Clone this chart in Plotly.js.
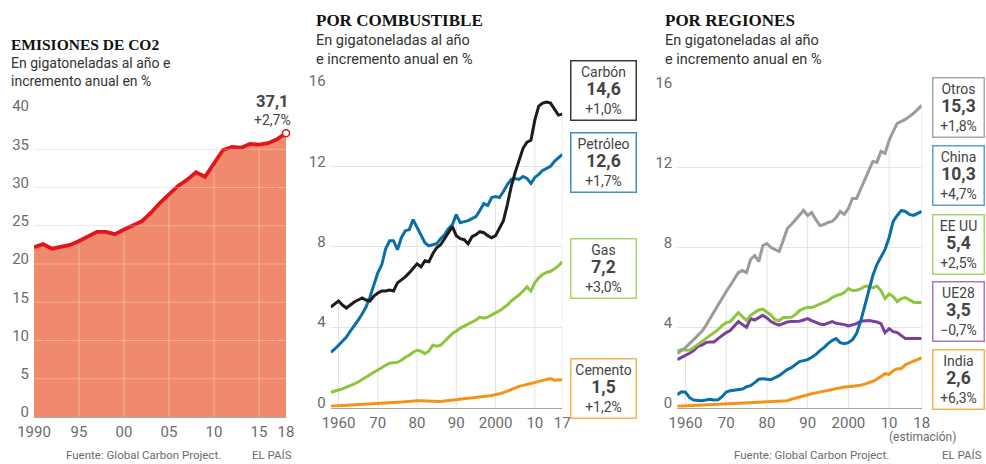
<!DOCTYPE html>
<html><head><meta charset="utf-8">
<script src="https://cdn.plot.ly/plotly-3.0.1.min.js"></script>
<style>html,body{margin:0;padding:0;background:#fff}#chart{width:986px;height:464px}</style>
</head><body><div id="chart"></div>
<script>
// ---------- Panel 1: total emissions ----------
const totalYears = [1990,1991,1992,1993,1994,1995,1996,1997,1998,1999,2000,2001,2002,2003,2004,2005,2006,2007,2008,2009,2010,2011,2012,2013,2014,2015,2016,2017,2018];
const totalCO2 = [22.2,22.6,22.0,22.2,22.5,23.0,23.6,24.2,24.2,23.9,24.5,25.0,25.6,26.7,28.0,29.1,30.2,31.0,32.0,31.4,33.1,34.9,35.3,35.2,35.7,35.6,35.8,36.3,37.1];
const totalLabel = '37,1';
const totalChange = '+2,7%';
const leftXTicks = [1990,1995,2000,2005,2010,2015,2018];
const leftXText = ['1990','95','00','05','10','15','18'];
const leftYTicks = [0,5,10,15,20,25,30,35,40];

// ---------- Panel 2: by fuel ----------
const fuelYears = [1958,1959,1960,1961,1962,1963,1964,1965,1966,1967,1968,1969,1970,1971,1972,1973,1974,1975,1976,1977,1978,1979,1980,1981,1982,1983,1984,1985,1986,1987,1988,1989,1990,1991,1992,1993,1994,1995,1996,1997,1998,1999,2000,2001,2002,2003,2004,2005,2006,2007,2008,2009,2010,2011,2012,2013,2014,2015,2016,2017];
const coal = [5.0,5.15,5.3,5.1,4.95,5.1,5.25,5.35,5.45,5.35, 5.3,5.55,5.7,5.8,5.8,5.85,5.8,6.2,6.35,6.5, 6.7,6.95,7.15,7.0,7.3,7.25,7.65,7.95,8.1,8.4, 8.7,9.0,8.55,8.4,8.35,8.15,8.5,8.6,8.75,8.7, 8.55,8.45,8.55,8.95,9.3,10.1,11.0,11.7,12.3,12.9, 13.2,13.3,14.3,15.0,15.15,15.2,15.15,14.85,14.55,14.6];
const oil = [2.75,2.9,3.1,3.3,3.5,3.8,4.05,4.35,4.65,5.0, 5.5,6.1,6.7,7.1,7.9,8.3,8.3,7.85,8.45,8.8, 8.85,9.35,8.95,8.55,8.2,8.05,8.1,8.15,8.4,8.6, 8.9,9.1,9.6,9.2,9.25,9.3,9.4,9.5,9.8,10.15, 10.05,10.45,10.5,10.45,10.75,11.1,11.35,11.4,11.35,11.5, 11.4,11.15,11.45,11.6,11.8,11.9,12.0,12.25,12.45,12.6];
const gas = [0.76,0.80,0.87,0.93,1.0,1.08,1.17,1.27,1.38,1.5, 1.62,1.75,1.87,2.0,2.1,2.2,2.23,2.25,2.35,2.5, 2.6,2.75,2.85,2.8,2.68,2.8,3.1,3.05,3.1,3.3, 3.5,3.68,3.8,3.95,4.05,4.15,4.25,4.35,4.5,4.45, 4.5,4.6,4.72,4.82,4.95,5.1,5.3,5.45,5.6,5.8, 6.0,5.8,6.2,6.45,6.62,6.72,6.78,6.9,7.05,7.25];
const cement = [0.06,0.07,0.08,0.09,0.1,0.11,0.12,0.13,0.14,0.15, 0.16,0.17,0.18,0.2,0.21,0.23,0.24,0.25,0.27,0.29, 0.31,0.33,0.34,0.33,0.32,0.31,0.3,0.29,0.3,0.32, 0.34,0.36,0.38,0.4,0.42,0.44,0.47,0.5,0.52,0.55, 0.57,0.6,0.63,0.68,0.74,0.82,0.9,0.98,1.05,1.1, 1.14,1.18,1.24,1.3,1.35,1.4,1.44,1.36,1.37,1.38];
const fuelNames = ['Carbón','Petróleo','Gas','Cemento'];
const fuelTotals = ['14,6','12,6','7,2','1,5'];
const fuelChanges = ['+1,0%','+1,7%','+3,0%','+1,2%'];
const midXTicks = [1960,1970,1980,1990,2000,2010,2017];
const midXText = ['1960','70','80','90','2000','10','17'];

// ---------- Panel 3: by region ----------
const regionYears = [1958,1959,1960,1961,1962,1963,1964,1965,1966,1967,1968,1969,1970,1971,1972,1973,1974,1975,1976,1977,1978,1979,1980,1981,1982,1983,1984,1985,1986,1987,1988,1989,1990,1991,1992,1993,1994,1995,1996,1997,1998,1999,2000,2001,2002,2003,2004,2005,2006,2007,2008,2009,2010,2011,2012,2013,2014,2015,2016,2017,2018];
const otros = [2.7,2.85,3.0,3.2,3.4,3.6,3.8,4.1,4.45,4.8, 5.1,5.45,5.8,6.1,6.4,6.75,6.85,6.75,7.4,7.6, 7.3,8.1,8.2,8.0,7.9,7.8,8.35,8.95,9.15,9.4, 9.6,9.85,9.6,9.75,9.4,9.1,9.15,9.25,9.3,9.5, 9.8,9.65,9.95,10.45,10.45,10.9,11.4,11.85,12.3,12.25, 12.8,12.7,13.35,13.8,14.2,14.3,14.4,14.55,14.7,14.9, 15.1];
const china = [0.65,0.8,0.78,0.5,0.38,0.35,0.35,0.38,0.42,0.38, 0.4,0.55,0.78,0.85,0.88,0.9,0.93,1.05,1.1,1.25, 1.42,1.45,1.42,1.4,1.5,1.6,1.75,1.9,2.0,2.15, 2.3,2.35,2.4,2.52,2.65,2.85,3.0,3.2,3.35,3.45, 3.25,3.2,3.25,3.4,3.7,4.3,5.1,5.9,6.6,7.15, 7.5,7.9,8.5,9.3,9.6,9.85,9.8,9.65,9.6,9.7, 9.8];
const eeuu = [2.82,2.9,2.88,2.87,3.0,3.15,3.3,3.45,3.6,3.72, 3.9,4.1,4.25,4.3,4.55,4.75,4.55,4.35,4.62,4.75, 4.88,4.92,4.78,4.62,4.4,4.35,4.5,4.5,4.52,4.65, 4.85,4.95,5.02,5.0,5.08,5.2,5.28,5.35,5.5,5.6, 5.65,5.75,5.95,5.85,5.87,5.93,6.05,6.08,5.98,6.07, 5.85,5.45,5.68,5.55,5.3,5.45,5.5,5.38,5.27,5.25, 5.25];
const ue28 = [2.4,2.5,2.62,2.72,2.85,3.05,3.12,3.25,3.28,3.28, 3.45,3.62,3.75,3.85,4.05,4.3,4.15,4.02,4.45,4.38, 4.5,4.62,4.48,4.3,4.2,4.12,4.2,4.28,4.3,4.3, 4.32,4.38,4.45,4.35,4.25,4.18,4.15,4.22,4.3,4.22, 4.2,4.15,4.08,4.15,4.2,4.32,4.35,4.35,4.32,4.28, 4.2,3.75,3.95,3.8,3.75,3.6,3.45,3.45,3.45,3.45, 3.45];
const india = [0.07,0.08,0.09,0.1,0.11,0.12,0.12,0.13,0.14,0.15, 0.16,0.17,0.18,0.19,0.2,0.21,0.22,0.23,0.24,0.25, 0.26,0.27,0.28,0.29,0.3,0.31,0.32,0.35,0.42,0.48, 0.55,0.6,0.65,0.7,0.74,0.78,0.82,0.88,0.93,0.97, 1.0,1.03,1.05,1.07,1.08,1.12,1.18,1.24,1.32,1.42, 1.54,1.7,1.66,1.85,1.95,1.95,2.15,2.25,2.32,2.4, 2.5];
const regionNames = ['Otros','China','EE UU','UE28','India'];
const regionTotals = ['15,3','10,3','5,4','3,5','2,6'];
const regionChanges = ['+1,8%','+4,7%','+2,5%','\u22120,7%','+6,3%'];
const rightXTicks = [1960,1970,1980,1990,2000,2010,2018];
const rightXText = ['1960','70','80','90','2000','10','18'];
const yTicks16 = [0,4,8,12,16];

// ---------- styling ----------
const W = 986, H = 464;
const px = x => x / W;
const py = y => 1 - y / H;
const NUM_FONT = 'Roboto, "Open Sans", sans-serif';
const SERIF = '"Liberation Serif", "DejaVu Serif", serif';
const C = {red:'#e2151c', fill:'#ef8a6d', black:'#1c1c1c', blue:'#0a6fa8', green:'#8cc63f', orange:'#f39419', purple:'#7d3f9b', gray:'#9b9b9b'};
const tickFont = {family: NUM_FONT, size: 15, color: '#6b6b6b'};

function valueAt(xs, ys, yr){ const i = xs.indexOf(yr); return i >= 0 ? ys[i] : 0; }

const LW = 3;
const traces = [
  {x: totalYears, y: totalCO2, type:'scatter', mode:'lines', fill:'tozeroy', fillcolor:C.fill, line:{width:0, color:C.fill}, xaxis:'x', yaxis:'y', hoverinfo:'skip'},
  {x: totalYears, y: totalCO2, type:'scatter', mode:'lines', line:{width:3.8, color:C.red}, xaxis:'x', yaxis:'y'},
  {x: [totalYears[totalYears.length-1]], y: [totalCO2[totalCO2.length-1]], type:'scatter', mode:'markers', marker:{size:7, color:'#fff', line:{color:C.red, width:1.5}}, xaxis:'x', yaxis:'y', cliponaxis:false},

  {x: fuelYears, y: cement, type:'scatter', mode:'lines', line:{width:LW, color:C.orange}, xaxis:'x2', yaxis:'y2'},
  {x: fuelYears, y: gas, type:'scatter', mode:'lines', line:{width:LW, color:C.green}, xaxis:'x2', yaxis:'y2'},
  {x: fuelYears, y: oil, type:'scatter', mode:'lines', line:{width:LW, color:C.blue}, xaxis:'x2', yaxis:'y2'},
  {x: fuelYears, y: coal, type:'scatter', mode:'lines', line:{width:LW, color:C.black}, xaxis:'x2', yaxis:'y2'},

  {x: regionYears, y: india, type:'scatter', mode:'lines', line:{width:LW, color:C.orange}, xaxis:'x3', yaxis:'y3'},
  {x: regionYears, y: ue28, type:'scatter', mode:'lines', line:{width:LW, color:C.purple}, xaxis:'x3', yaxis:'y3'},
  {x: regionYears, y: eeuu, type:'scatter', mode:'lines', line:{width:LW, color:C.green}, xaxis:'x3', yaxis:'y3'},
  {x: regionYears, y: otros, type:'scatter', mode:'lines', line:{width:LW, color:C.gray}, xaxis:'x3', yaxis:'y3'},
  {x: regionYears, y: china, type:'scatter', mode:'lines', line:{width:LW, color:C.blue}, xaxis:'x3', yaxis:'y3'}
];

function xAxis(domain, range, tv, tt, anchor){
  return {domain, range, anchor, tickvals: tv, ticktext: tt, showgrid:false, zeroline:false,
    showline:true, linecolor:'#a8a8a8', linewidth:1, ticks:'', tickfont: tickFont, ticklabelstandoff: 1, fixedrange:true};
}
function yAxis(domain, range, tv, anchor){
  return {domain, range, anchor, tickvals: tv, showgrid:true, gridcolor:'#e4e4e4', gridwidth:1, zeroline:false,
    showline:false, ticks:'', tickfont: tickFont, ticklabelshift: -5, ticklabelstandoff: 4, fixedrange:true};
}

const shapes = [];
// panel 1: light lines over the filled area
leftXTicks.filter(t => t > totalYears[0] && t < totalYears[totalYears.length-1]).forEach(t => {
  shapes.push({type:'line', xref:'x', yref:'y', x0:t, x1:t, y0:0, y1: valueAt(totalYears,totalCO2,t) - 0.4, layer:'above', line:{color:'rgba(255,255,255,0.35)', width:1}});
});
leftYTicks.filter(v => v > 0).forEach(v => {
  shapes.push({type:'line', xref:'x', yref:'y', x0:totalYears[0], x1:totalYears[totalYears.length-1], y0:v, y1:v, layer:'above', line:{color:'rgba(255,255,255,0.3)', width:1}});
});
// panels 2 and 3: vertical grid up to the highest line
midXTicks.forEach(t => {
  const top = Math.max(...[coal,oil,gas,cement].map(s => valueAt(fuelYears, s, t)));
  shapes.push({type:'line', xref:'x2', yref:'y2', x0:t, x1:t, y0:0, y1:top, layer:'below', line:{color:'#e2e2e2', width:1}});
});
rightXTicks.forEach(t => {
  const top = Math.max(...[otros,china,eeuu,ue28,india].map(s => valueAt(regionYears, s, t)));
  shapes.push({type:'line', xref:'x3', yref:'y3', x0:t, x1:t, y0:0, y1:top, layer:'below', line:{color:'#e2e2e2', width:1}});
});

const annotations = [];
function txt(text, x, y, size, opts){
  annotations.push(Object.assign({text, xref:'paper', yref:'paper', x: px(x), y: py(y), xanchor:'left', yanchor:'middle', showarrow:false, align:'left',
    font:{family: NUM_FONT, size, color:'#333'}}, opts || {}));
}
// titles
txt('<b>EMISIONES DE CO2</b>', 9, 45, 15.5, {font:{family:SERIF, size:15.5, color:'#111'}});
txt('En gigatoneladas al año e<br>incremento anual en %', 9, 72, 14);
txt('<b>POR COMBUSTIBLE</b>', 314, 20.5, 17, {font:{family:SERIF, size:17, color:'#111'}});
txt('En gigatoneladas al año<br>e incremento anual en %', 314, 49.5, 14.5);
txt('<b>POR REGIONES</b>', 663, 20.5, 17, {font:{family:SERIF, size:17, color:'#111'}});
txt('En gigatoneladas al año<br>e incremento anual en %', 663, 49.5, 14.5);
// sources
txt('Fuente: Global Carbon Project.', 64, 455, 11.5, {font:{family:NUM_FONT, size:11.5, color:'#6b6b6b'}});
txt('EL PAÍS', 250, 455, 11.5, {font:{family:NUM_FONT, size:11.5, color:'#6b6b6b'}});
txt('Fuente: Global Carbon Project.', 732, 455, 11.5, {font:{family:NUM_FONT, size:11.5, color:'#6b6b6b'}});
txt('EL PAÍS', 940, 455, 11.5, {font:{family:NUM_FONT, size:11.5, color:'#6b6b6b'}});
txt('(estimación)', 922, 437, 12, {xanchor:'center', font:{family:NUM_FONT, size:12, color:'#6b6b6b'}});

// total label
annotations.push({text:'<b><span style="font-size:16.5px">' + totalLabel + '</span></b><br>' + totalChange,
  xref:'x', yref:'y', x: totalYears[totalYears.length-1], y: totalCO2[totalCO2.length-1], xanchor:'center', yanchor:'bottom',
  xshift:-14, yshift:4, showarrow:false, align:'center', bgcolor:'#fff', borderpad:0,
  font:{family:NUM_FONT, size:14, color:'#444'}});

// legend boxes
function box(name, total, chg, cx, cy, w, color){
  annotations.push({text: name + '<br><b><span style="font-size:17.5px">' + total + '</span></b><br>' + chg,
    xref:'paper', yref:'paper', x: px(cx), y: py(cy), xanchor:'center', yanchor:'middle', showarrow:false, align:'center',
    width: w, height: 56, valign:'middle', bordercolor: color, borderwidth:1.5, borderpad:1, bgcolor:'#fff',
    font:{family:NUM_FONT, size:14, color:'#444'}});
}
const fuelBoxColors = ['#3a3a3a','#3f8fc6','#a9d36c','#f6b24f'];
const fuelBoxY = [90, 163, 268, 388];
fuelNames.forEach((n,i) => box(n, fuelTotals[i], fuelChanges[i], 603.5, fuelBoxY[i], 62, fuelBoxColors[i]));
const regionBoxColors = ['#a8a8a8','#5aa0d0','#a9d36c','#a57ac3','#f6b24f'];
const regionBoxY = [108, 175, 244, 311, 379];
regionNames.forEach((n,i) => box(n, regionTotals[i], regionChanges[i], 958.5, regionBoxY[i], 48, regionBoxColors[i]));

const layout = {
  width: W, height: H, margin:{l:0,r:0,t:0,b:0}, paper_bgcolor:'#fff', plot_bgcolor:'rgba(0,0,0,0)',
  showlegend:false, hovermode:false,
  xaxis: xAxis([px(34), px(286)], [1990, 2018], leftXTicks, leftXText, 'y'),
  yaxis: yAxis([py(417), py(111)], [0, 40], leftYTicks, 'x'),
  xaxis2: xAxis([px(330.7), px(562.3)], [1958, 2017], midXTicks, midXText, 'y2'),
  yaxis2: yAxis([py(407.5), py(86)], [0, 16], yTicks16, 'x2'),
  xaxis3: xAxis([px(677.3), px(921.7)], [1958, 2018], rightXTicks, rightXText, 'y3'),
  yaxis3: yAxis([py(407.7), py(87.3)], [0, 16], yTicks16, 'x3'),
  shapes, annotations
};

Plotly.newPlot('chart', traces, layout, {staticPlot:true, displayModeBar:false});
</script>
</body></html>
